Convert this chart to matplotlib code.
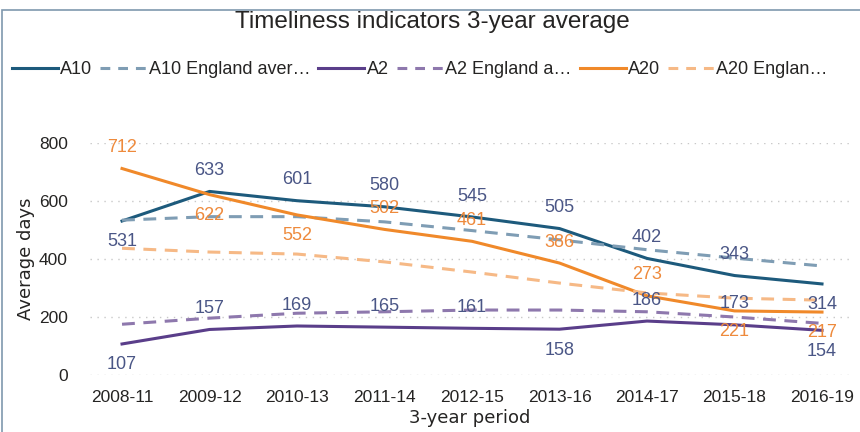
import matplotlib.pyplot as plt
from matplotlib.patches import Rectangle

periods = ["2008-11", "2009-12", "2010-13", "2011-14", "2012-15",
           "2013-16", "2014-17", "2015-18", "2016-19"]

a10 = [531, 633, 601, 580, 545, 505, 402, 343, 314]
a10_eng = [534, 546, 546, 528, 498, 466, 432, 403, 376]
a2 = [107, 157, 169, 165, 161, 158, 186, 173, 154]
a2_eng = [175, 196, 213, 218, 224, 224, 218, 200, 178]
a20 = [712, 622, 552, 502, 461, 386, 273, 221, 217]
a20_eng = [437, 424, 417, 390, 355, 317, 283, 265, 258]

# label above (+1) or below (-1) the point
a10_pos = [-1, 1, 1, 1, 1, 1, 1, 1, -1]
a2_pos = [-1, 1, 1, 1, 1, -1, 1, 1, -1]
a20_pos = [1, -1, -1, 1, 1, 1, 1, -1, -1]

plt.rcParams['font.family'] = ['Liberation Sans', 'DejaVu Sans']

fig = plt.figure(figsize=(8.6, 4.32), dpi=100)
ax = fig.add_axes([90 / 860, 57 / 432, 760 / 860, 232 / 432])

x = list(range(len(periods)))
c_a10, c_a10e = "#1d5a7c", "#7f9db4"
c_a2, c_a2e = "#5a3e8a", "#8e78ad"
c_a20, c_a20e = "#f0892a", "#f6b986"
lbl_blue = "#4a5686"
lbl_orange = "#ee8a3c"
dash = (0, (4.2, 2.8))

ax.plot(x, a10, color=c_a10, lw=2.2, label="A10")
ax.plot(x, a10_eng, color=c_a10e, lw=2.2, ls=dash, label="A10 England aver…")
ax.plot(x, a2, color=c_a2, lw=2.2, label="A2")
ax.plot(x, a2_eng, color=c_a2e, lw=2.2, ls=dash, label="A2 England a…")
ax.plot(x, a20, color=c_a20, lw=2.2, label="A20")
ax.plot(x, a20_eng, color=c_a20e, lw=2.2, ls=dash, label="A20 Englan…")

for vals, pos, col in [(a10, a10_pos, lbl_blue), (a2, a2_pos, lbl_blue),
                       (a20, a20_pos, lbl_orange)]:
    for i, (v, p) in enumerate(zip(vals, pos)):
        ax.annotate(str(v), (i, v), xytext=(0, 15 * p), textcoords="offset points",
                    ha="center", va="center", fontsize=13, color=col,
                    annotation_clip=False)

ax.set_xlim(-0.366, 8.32)
ax.set_ylim(0, 800)
ax.set_yticks([0, 200, 400, 600, 800])
ax.set_xticks(x)
ax.set_xticklabels(periods)
ax.tick_params(length=0, labelsize=12.5, colors="#252423", pad=11)
ax.tick_params(axis="y", pad=16)
for s in ax.spines.values():
    s.set_visible(False)
ax.grid(axis="y", color="#c8c8c8", ls=(0, (1, 4)), lw=1)
ax.set_axisbelow(True)
ax.set_ylabel("Average days", fontsize=13, color="#252423", labelpad=3,
              family="DejaVu Sans")
ax.set_xlabel("3-year period", fontsize=13, color="#252423", labelpad=3,
              family="DejaVu Sans")

fig.text(432 / 860, 1 - 22 / 432, "Timeliness indicators 3-year average",
         ha="center", va="center", fontsize=17.5, color="#252423")

leg = fig.legend(loc="center left", bbox_to_anchor=(12 / 860, 1 - 70 / 432), ncol=6,
                 frameon=False, fontsize=13, handlelength=2.55, handletextpad=0.12,
                 columnspacing=0.45, borderpad=0, borderaxespad=0,
                 labelcolor="#252423")
for h in leg.get_lines():
    if h.get_linestyle() != "-":
        h.set_dashes((3.2, 2.6))

fig.patches.append(Rectangle((2 / 860, -0.1), 1.0, 1 - 10 / 432 + 0.1,
                             transform=fig.transFigure, fill=False,
                             edgecolor="#7f98ae", lw=1.2))

fig.savefig("out.png", dpi=100)
